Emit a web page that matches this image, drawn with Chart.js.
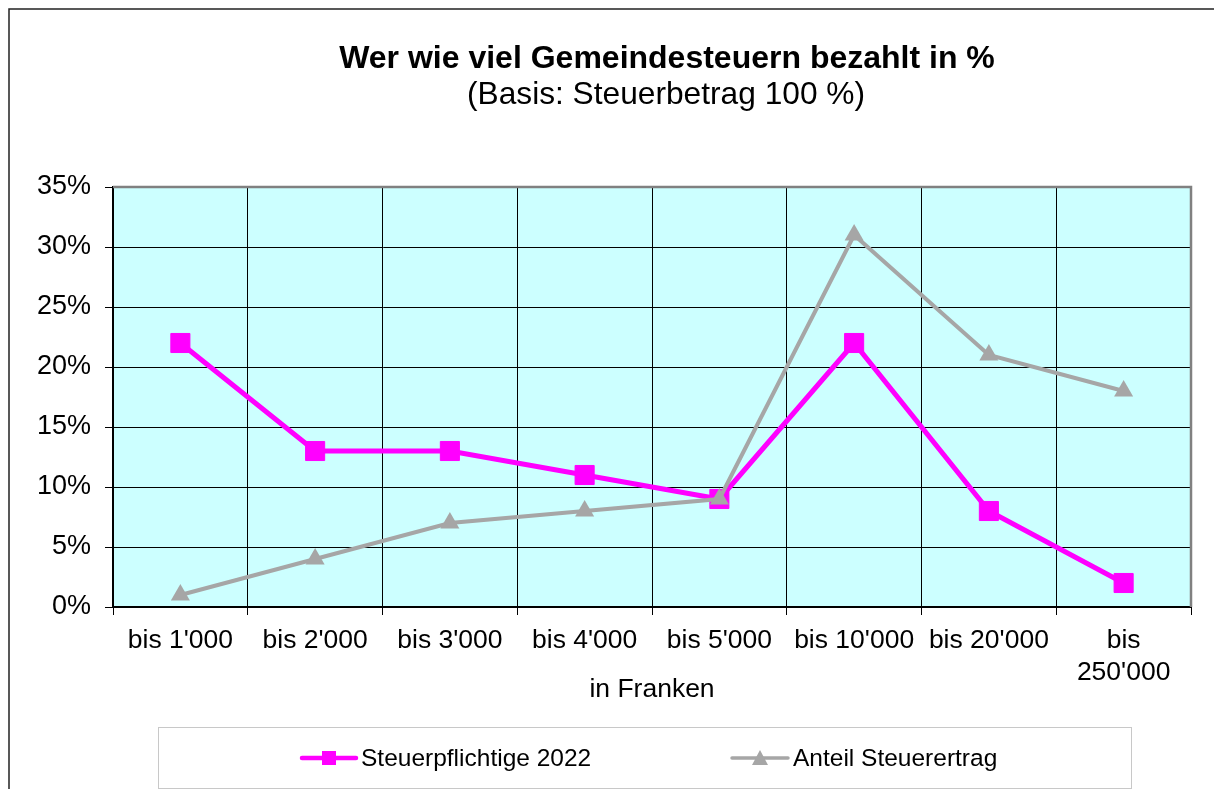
<!DOCTYPE html>
<html>
<head>
<meta charset="utf-8">
<script src="https://cdn.jsdelivr.net/npm/chart.js@4.4.0/dist/chart.umd.min.js"></script>
<style>
html,body{margin:0;padding:0;background:#fff;}
#wrap{position:relative;width:1214px;height:789px;}
</style>
</head>
<body>
<div id="wrap"><canvas id="c" width="1214" height="789"></canvas></div>
<script>
const categories = ["bis 1'000", "bis 2'000", "bis 3'000", "bis 4'000", "bis 5'000", "bis 10'000", "bis 20'000", ["bis", "250'000"]];
const steuerpflichtige = [22, 13, 13, 11, 9, 22, 8, 2];
const anteilSteuerertrag = [1, 4, 7, 8, 9, 31, 21, 18];
const yTicks = [0, 5, 10, 15, 20, 25, 30, 35];
const titleText = "Wer wie viel Gemeindesteuern bezahlt in %";
const subtitleText = "(Basis: Steuerbetrag 100 %)";
const xAxisTitle = "in Franken";
const seriesNames = ["Steuerpflichtige 2022", "Anteil Steuerertrag"];

const FONT = "'Liberation Sans', Arial, sans-serif";
const PINK = '#FF00FF';
const GRAY = '#A6A6A6';

const decor = {
  id: 'decor',
  beforeDraw(chart) {
    const {ctx, chartArea: a} = chart;
    ctx.save();
    ctx.fillStyle = '#CCFFFF';
    ctx.fillRect(a.left, a.top, a.right - a.left, a.bottom - a.top);
    ctx.restore();
  },
  afterDraw(chart) {
    const {ctx, chartArea: a} = chart;
    ctx.save();
    // plot border top/right gray
    ctx.strokeStyle = '#808080';
    ctx.lineWidth = 2.5;
    ctx.beginPath();
    ctx.moveTo(a.left, a.top);
    ctx.lineTo(a.right, a.top);
    ctx.lineTo(a.right, a.bottom);
    ctx.stroke();
    // outer frame
    ctx.strokeStyle = '#222';
    ctx.lineWidth = 1.5;
    ctx.beginPath();
    ctx.moveTo(9, 789);
    ctx.lineTo(9, 9);
    ctx.lineTo(1214, 9);
    ctx.stroke();
    // titles
    ctx.fillStyle = '#000';
    ctx.textAlign = 'center';
    ctx.textBaseline = 'alphabetic';
    ctx.font = 'bold 32px ' + FONT;
    ctx.fillText(titleText, 667, 68);
    ctx.font = '31.7px ' + FONT;
    ctx.fillText(subtitleText, 666, 104);
    ctx.font = '26.5px ' + FONT;
    ctx.fillText(xAxisTitle, (a.left + a.right) / 2, 697);
    // legend box
    ctx.strokeStyle = '#C8C8C8';
    ctx.lineWidth = 1;
    ctx.strokeRect(158.5, 727.5, 973, 61);
    // legend item 1
    ctx.strokeStyle = PINK;
    ctx.lineWidth = 4.5;
    ctx.lineCap = 'round';
    ctx.beginPath();
    ctx.moveTo(302, 758);
    ctx.lineTo(356, 758);
    ctx.stroke();
    ctx.fillStyle = PINK;
    ctx.fillRect(322, 751, 14, 14);
    ctx.fillStyle = '#000';
    ctx.textAlign = 'left';
    ctx.font = '24.5px ' + FONT;
    ctx.textBaseline = 'middle';
    ctx.fillText(seriesNames[0], 361, 759);
    // legend item 2
    ctx.strokeStyle = GRAY;
    ctx.lineWidth = 3.5;
    ctx.beginPath();
    ctx.moveTo(732, 758);
    ctx.lineTo(788, 758);
    ctx.stroke();
    ctx.fillStyle = GRAY;
    ctx.beginPath();
    ctx.moveTo(760, 750);
    ctx.lineTo(768, 765);
    ctx.lineTo(752, 765);
    ctx.closePath();
    ctx.fill();
    ctx.fillStyle = '#000';
    ctx.fillText(seriesNames[1], 793, 759);
    ctx.restore();
  }
};

new Chart(document.getElementById('c'), {
  type: 'line',
  data: {
    labels: categories,
    datasets: [
      {
        label: seriesNames[0],
        data: steuerpflichtige,
        borderColor: PINK,
        backgroundColor: PINK,
        borderWidth: 5,
        pointStyle: 'rect',
        pointRadius: 13.5,
        pointBorderWidth: 1,
        pointBorderColor: PINK,
        pointBackgroundColor: PINK,
        tension: 0,
        order: 2
      },
      {
        label: seriesNames[1],
        data: anteilSteuerertrag,
        borderColor: GRAY,
        backgroundColor: GRAY,
        borderWidth: 4,
        pointStyle: 'triangle',
        pointRadius: 11,
        pointBorderWidth: 0,
        pointBackgroundColor: GRAY,
        tension: 0,
        order: 1
      }
    ]
  },
  options: {
    responsive: false,
    animation: false,
    devicePixelRatio: 1,
    layout: { padding: { left: 0, top: 187, right: 23, bottom: 0 } },
    plugins: {
      legend: { display: false },
      title: { display: false },
      tooltip: { enabled: false }
    },
    scales: {
      x: {
        type: 'category',
        offset: true,
        afterFit(scale) { scale.height = 182; },
        grid: {
          offset: true,
          color: '#000',
          lineWidth: 1,
          drawTicks: true,
          tickLength: 8,
          tickColor: '#000'
        },
        border: { color: '#000', width: 2 },
        ticks: {
          color: '#000',
          font: { family: FONT, size: 26.5, lineHeight: 1.2 },
          padding: 10,
          maxRotation: 0,
          autoSkip: false
        }
      },
      y: {
        min: 0,
        max: 35,
        afterFit(scale) { scale.width = 113; },
        afterBuildTicks(scale) { scale.ticks = yTicks.map(v => ({ value: v })); },
        grid: {
          color: '#000',
          lineWidth: 1,
          tickLength: 8,
          tickColor: '#000'
        },
        border: { color: '#000', width: 2 },
        ticks: {
          color: '#000',
          font: { family: FONT, size: 27 },
          padding: 14,
          callback: v => v + '%'
        }
      }
    }
  },
  plugins: [decor]
});
</script>
</body>
</html>
